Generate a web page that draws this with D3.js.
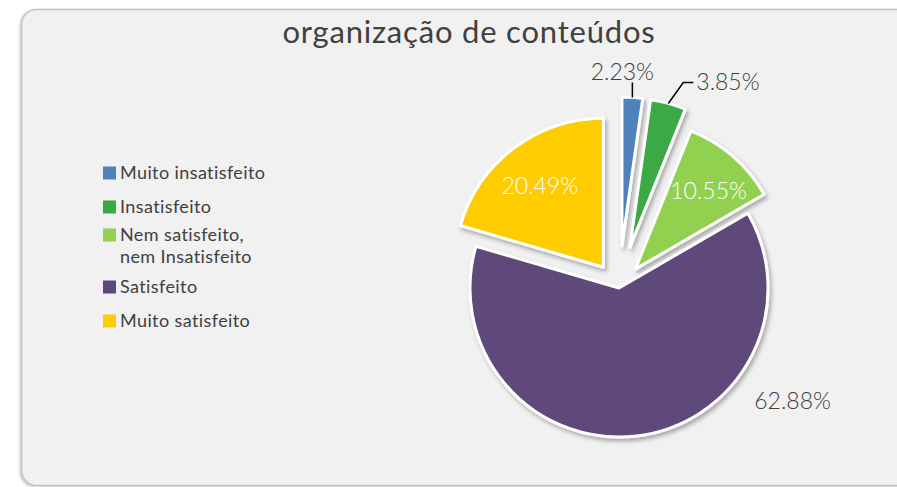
<!DOCTYPE html>
<html><head><meta charset="utf-8">
<script src="https://cdn.jsdelivr.net/npm/d3@7"></script>
<style>
html,body{margin:0;padding:0;background:#fff;}
svg{display:block;font-family:Lato,"Noto Sans",sans-serif;}
</style></head>
<body>
<svg id="chart" width="897" height="487"></svg>
<script>
const title = "organização de conteúdos";
const categories = ["Muito insatisfeito","Insatisfeito","Nem satisfeito,\nnem Insatisfeito","Satisfeito","Muito satisfeito"];
const values = [2.23, 3.85, 10.55, 62.88, 20.49];
const valueLabels = ["2.23%","3.85%","10.55%","62.88%","20.49%"];
const colors = ["#4f81bd","#3aa944","#92d050","#5f497a","#ffcc00"];
const explode = [42, 42, 25, 0, 26];

const svg = d3.select("#chart");
const defs = svg.append("defs");
const f = defs.append("filter").attr("id","sh").attr("x","-20%").attr("y","-20%").attr("width","140%").attr("height","140%");
f.append("feDropShadow").attr("dx",2).attr("dy",3).attr("stdDeviation",2).attr("flood-color","#000").attr("flood-opacity",0.3);
const f2 = defs.append("filter").attr("id","fsh").attr("x","-5%").attr("y","-5%").attr("width","110%").attr("height","110%");
f2.append("feDropShadow").attr("dx",-1).attr("dy",1).attr("stdDeviation",1.2).attr("flood-color","#000").attr("flood-opacity",0.25);

// frame
svg.append("rect").attr("x",21.5).attr("y",9.5).attr("width",900).attr("height",476)
  .attr("rx",15).attr("fill","#f1f1f1").attr("stroke","#c3c3c3").attr("stroke-width",1.5).attr("filter","url(#fsh)");

svg.append("text").attr("x",469).attr("y",43).attr("text-anchor","middle")
  .attr("font-size",31).attr("letter-spacing",0.8).attr("fill","#404040").text(title);

// legend
const legY = [173, 207, 235, 287, 321];
const leg = svg.append("g");
categories.forEach((c,i)=>{
  const g = leg.append("g").attr("transform",`translate(103,${legY[i]})`);
  g.append("rect").attr("x",0).attr("y",-6.5).attr("width",13).attr("height",13).attr("fill",colors[i]);
  const t = g.append("text").attr("x",17).attr("y",6).attr("font-size",18).attr("letter-spacing",0.4).attr("fill","#404040");
  c.split("\n").forEach((line,j)=>{
    t.append("tspan").attr("x",17).attr("dy", j===0?0:22).text(line);
  });
});

// pie
const cx = 619, cy = 288, R = 149;
const pie = d3.pie().sort(null).value(d=>d);
const arcs = pie(values);
const arc = d3.arc().innerRadius(0).outerRadius(R);
const g = svg.append("g").attr("transform",`translate(${cx},${cy})`);
function off(d,i){ const a=(d.startAngle+d.endAngle)/2; return [explode[i]*Math.sin(a), -explode[i]*Math.cos(a)]; }
g.selectAll("path.slice").data(arcs).join("path").attr("class","slice")
  .attr("transform",(d,i)=>{const o=off(d,i);return `translate(${o[0]},${o[1]})`;})
  .attr("d",arc).attr("fill",(d,i)=>colors[i])
  .attr("stroke","#fff").attr("stroke-width",3).attr("stroke-linejoin","round")
  .attr("filter","url(#sh)");

const lab = svg.append("g").attr("font-size",23).attr("font-weight",300);
// inside labels (light green, yellow)
[2,4].forEach(i=>{
  const d = arcs[i], o = off(d,i);
  const c = d3.arc().innerRadius(R*0.6).outerRadius(R*0.8).centroid(d);
  lab.append("text").attr("x",cx+o[0]+c[0]+(i===2?5:-1)).attr("y",cy+o[1]+c[1]+(i===2?9:10)).attr("text-anchor","middle")
    .attr("fill","#fff").text(valueLabels[i]);
});
// blue label with leader
(function(){
  const i=0,d=arcs[i],o=off(d,i),a=(d.startAngle+d.endAngle)/2;
  const px=cx+o[0]+R*Math.sin(a), py=cy+o[1]-R*Math.cos(a);
  lab.append("path").attr("d",`M${px},${py}L${px},${py-15}`).attr("stroke","#000").attr("stroke-width",1.5).attr("fill","none");
  lab.append("text").attr("x",px-10).attr("y",py-17).attr("text-anchor","middle").attr("fill","#404040").text(valueLabels[i]);
})();
(function(){
  const i=1,d=arcs[i],o=off(d,i),a=(d.startAngle+d.endAngle)/2;
  const px=cx+o[0]+R*Math.sin(a), py=cy+o[1]-R*Math.cos(a);
  lab.append("path").attr("d",`M${px},${py}L${px+15},${py-21}L${px+25},${py-21}`).attr("stroke","#000").attr("stroke-width",1.5).attr("fill","none");
  lab.append("text").attr("x",px+28).attr("y",py-13).attr("fill","#404040").text(valueLabels[i]);
})();
(function(){
  const i=3,a=123*Math.PI/180;
  lab.append("text").attr("x",cx+(R+58)*Math.sin(a)).attr("y",cy-(R+58)*Math.cos(a)+8).attr("text-anchor","middle")
    .attr("fill","#404040").text(valueLabels[i]);
})();
</script>
</body></html>
